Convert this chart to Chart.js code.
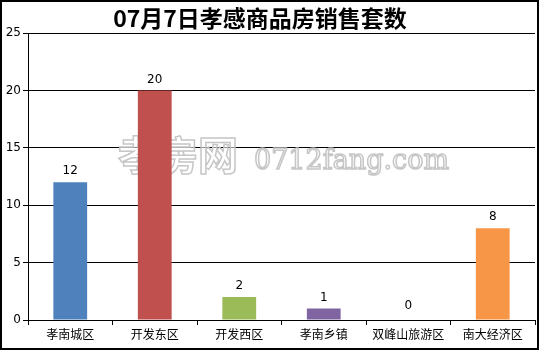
<!DOCTYPE html>
<html><head><meta charset="utf-8">
<script src="https://cdn.jsdelivr.net/npm/chart.js@4/dist/chart.umd.min.js"></script>
<style>html,body{margin:0;padding:0;background:#fff}#wrap{width:539px;height:351px;position:relative}</style>
</head><body><div id="wrap"><canvas id="c" width="539" height="351"></canvas></div>
<script>
const titleText = '07月7日孝感商品房销售套数';
const categories = ['孝南城区','开发东区','开发西区','孝南乡镇','双峰山旅游区','南大经济区'];
const values = [12, 20, 2, 1, 0, 8];
const barColors = ['#4F81BD','#C0504D','#9BBB59','#8064A2','#4BACC6','#F79646'];
const yTicks = [0, 5, 10, 15, 20, 25];
const watermarkCn = '孝房网';
const watermarkEn = '0712fang.com';

const cjk = '"Noto Sans CJK SC", "DejaVu Sans", sans-serif';

const extras = {
  id: 'extras',
  beforeDatasetsDraw(chart) {
    const ctx = chart.ctx;
    ctx.save();
    ctx.textBaseline = 'alphabetic';
    ctx.textAlign = 'left';
    ctx.lineWidth = 1.5;
    ctx.strokeStyle = 'rgba(195,195,195,0.95)';
    ctx.fillStyle = 'rgba(255,255,255,0.55)';
    ctx.font = 'bold 40px ' + cjk;
    ctx.fillText(watermarkCn, 118, 170);
    ctx.strokeText(watermarkCn, 118, 170);
    ctx.font = '27px "DejaVu Serif", serif';
    ctx.fillText(watermarkEn, 254, 169);
    ctx.strokeText(watermarkEn, 254, 169);
    ctx.restore();
  },
  afterDatasetsDraw(chart) {
    const ctx = chart.ctx;
    const meta = chart.getDatasetMeta(0);
    ctx.save();
    ctx.fillStyle = '#000';
    ctx.font = '12px "DejaVu Sans", sans-serif';
    ctx.textAlign = 'center';
    ctx.textBaseline = 'bottom';
    meta.data.forEach((el, i) => {
      ctx.fillText(String(values[i]), el.x, el.y - (values[i] === 0 ? 8 : 5));
    });
    ctx.restore();
  },
  afterDraw(chart) {
    const ctx = chart.ctx;
    ctx.save();
    ctx.fillStyle = '#000';
    ctx.font = 'bold 23px ' + cjk;
    ctx.textAlign = 'center';
    ctx.textBaseline = 'middle';
    ctx.fillText(titleText, 260, 18);
    ctx.strokeStyle = '#000';
    ctx.lineWidth = 2;
    ctx.strokeRect(1, 1, 537, 348);
    ctx.restore();
  }
};

new Chart(document.getElementById('c'), {
  type: 'bar',
  data: {
    labels: categories,
    datasets: [{
      data: values,
      backgroundColor: barColors,
      borderWidth: 0,
      categoryPercentage: 0.8,
      barPercentage: 0.5
    }]
  },
  options: {
    responsive: false,
    animation: false,
    devicePixelRatio: 1,
    layout: { padding: { left: 4, right: 4, top: 33, bottom: 3 } },
    plugins: {
      legend: { display: false },
      tooltip: { enabled: false },
      title: { display: false }
    },
    scales: {
      x: {
        offset: true,
        border: { display: true, color: '#000', width: 1 },
        grid: { display: true, offset: true, drawOnChartArea: false, drawTicks: true, tickLength: 5, color: '#000' },
        ticks: { color: '#000', font: { family: cjk, size: 12 }, padding: 2, maxRotation: 0, autoSkip: false },
        afterFit(s) { s.height = 28; }
      },
      y: {
        min: 0, max: 25,
        border: { display: true, color: '#000', width: 1 },
        grid: { color: '#000', tickLength: 5, drawTicks: true },
        afterBuildTicks(s) { s.ticks = yTicks.map(v => ({ value: v })); },
        ticks: { color: '#000', font: { family: '"DejaVu Sans", sans-serif', size: 12 }, padding: 2 },
        afterFit(s) { s.width = 24; }
      }
    }
  },
  plugins: [extras]
});
</script></body></html>
